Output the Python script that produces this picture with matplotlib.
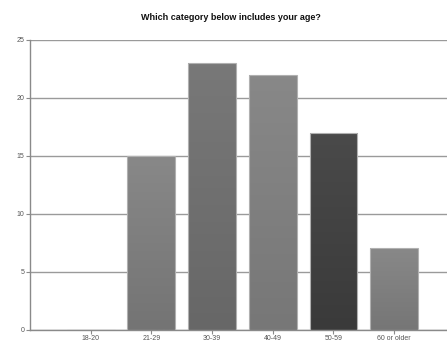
import numpy as np
import matplotlib
matplotlib.use("Agg")
import matplotlib.pyplot as plt
from matplotlib.colors import LinearSegmentedColormap

categories = ["18-20", "21-29", "30-39", "40-49", "50-59", "60 or older"]
counts = [0, 15, 23, 22, 17, 7]
yticks = [0, 5, 10, 15, 20, 25]
# (top, bottom) shades for each bar's vertical gradient
shades = [
    ("#888888", "#747474"),
    ("#888888", "#747474"),
    ("#787878", "#676767"),
    ("#888888", "#777777"),
    ("#4a4a4a", "#3a3a3a"),
    ("#888888", "#767676"),
]

plt.rcParams["font.family"] = ["Liberation Sans", "DejaVu Sans"]

fig = plt.figure(figsize=(4.47, 3.44), dpi=100)
ax = fig.add_axes([0.067, 0.042, 0.933, 0.842])

x = np.arange(len(categories))
bars = ax.bar(x, counts, width=0.79, color="none", edgecolor="#b0b0b0",
              linewidth=0.8, zorder=3)

for bar, (top, bot) in zip(bars, shades):
    h = bar.get_height()
    if h <= 0:
        continue
    cmap = LinearSegmentedColormap.from_list("g", [bot, top])
    grad = np.linspace(0, 1, 64).reshape(-1, 1)
    x0 = bar.get_x()
    im = ax.imshow(grad, cmap=cmap, origin="lower", aspect="auto",
                   extent=[x0, x0 + bar.get_width(), 0, h], zorder=2.5)
    im.set_clip_path(bar)

ax.set_xlim(-1.0, 5.87)
ax.set_ylim(0, 25)
ax.set_yticks(yticks)
ax.set_xticks(x)
ax.set_xticklabels(categories)

ax.yaxis.grid(True, color="#9a9a9a", linewidth=1.0)
ax.set_axisbelow(True)
for side in ("top", "right"):
    ax.spines[side].set_visible(False)
for side in ("left", "bottom"):
    ax.spines[side].set_color("#8a8a8a")
    ax.spines[side].set_linewidth(1.0)

ax.tick_params(axis="both", labelsize=5, colors="#8a8a8a", labelcolor="#555555",
               length=3, width=0.8, pad=1)

fig.text(0.517, 0.95, "Which category below includes your age?",
         ha="center", va="center", fontsize=6.5, fontweight="bold", color="#111111")

fig.savefig("out.png", dpi=100)
